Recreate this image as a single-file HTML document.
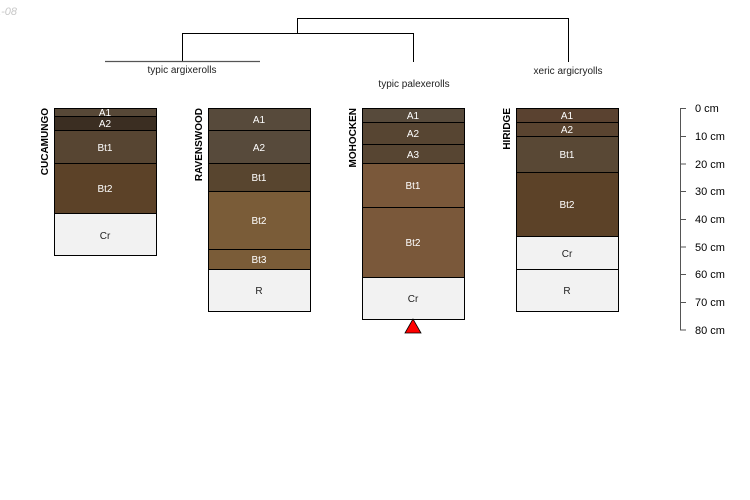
<!DOCTYPE html>
<html><head><meta charset="utf-8"><style>
html,body{margin:0;padding:0;background:#fff;width:750px;height:500px;overflow:hidden}
svg{display:block;font-family:"Liberation Sans",sans-serif}
</style></head><body>
<svg width="750" height="500" viewBox="0 0 750 500" xmlns="http://www.w3.org/2000/svg">
<text x="17" y="15" text-anchor="end" font-size="11" font-style="italic" fill="#c8c8c8">2021-08</text>
<g stroke="#000" stroke-width="1" fill="none">
<path d="M297.5 33V18.5H568.5V62"/>
<path d="M182.5 61V33.5H413.5V62"/>
</g>
<path d="M105 61.5H260" stroke="#555" stroke-width="1.2"/>
<g font-size="10" fill="#222" text-anchor="middle">
<text x="182" y="73">typic argixerolls</text>
<text x="414" y="87">typic palexerolls</text>
<text x="568" y="74">xeric argicryolls</text>
</g>
<g stroke="#000" stroke-width="1">
<!-- Cucamungo -->
<rect x="54.5" y="108.5" width="102" height="8" fill="#574837"/>
<rect x="54.5" y="116.5" width="102" height="14" fill="#3b2e22"/>
<rect x="54.5" y="130.5" width="102" height="33" fill="#574532"/>
<rect x="54.5" y="163.5" width="102" height="50" fill="#5c4228"/>
<rect x="54.5" y="213.5" width="102" height="42" fill="#f2f2f2"/>
<!-- Ravenswood -->
<rect x="208.5" y="108.5" width="102" height="22" fill="#574a3b"/>
<rect x="208.5" y="130.5" width="102" height="33" fill="#574a3b"/>
<rect x="208.5" y="163.5" width="102" height="28" fill="#58452f"/>
<rect x="208.5" y="191.5" width="102" height="58" fill="#7a5c38"/>
<rect x="208.5" y="249.5" width="102" height="20" fill="#7a5c38"/>
<rect x="208.5" y="269.5" width="102" height="42" fill="#f2f2f2"/>
<!-- Mohocken -->
<rect x="362.5" y="108.5" width="102" height="14" fill="#574a3b"/>
<rect x="362.5" y="122.5" width="102" height="22" fill="#574532"/>
<rect x="362.5" y="144.5" width="102" height="19" fill="#574532"/>
<rect x="362.5" y="163.5" width="102" height="44" fill="#7a583a"/>
<rect x="362.5" y="207.5" width="102" height="70" fill="#7a583a"/>
<rect x="362.5" y="277.5" width="102" height="42" fill="#f2f2f2"/>
<!-- Hiridge -->
<rect x="516.5" y="108.5" width="102" height="14" fill="#5a4230"/>
<rect x="516.5" y="122.5" width="102" height="14" fill="#5a4430"/>
<rect x="516.5" y="136.5" width="102" height="36" fill="#594835"/>
<rect x="516.5" y="172.5" width="102" height="64" fill="#5c4228"/>
<rect x="516.5" y="236.5" width="102" height="33" fill="#f2f2f2"/>
<rect x="516.5" y="269.5" width="102" height="42" fill="#f2f2f2"/>
</g>
<g font-size="10" text-anchor="middle" fill="#fff">
<text x="105" y="116">A1</text><text x="105" y="127">A2</text><text x="105" y="151">Bt1</text><text x="105" y="192">Bt2</text>
<text x="105" y="239" fill="#222">Cr</text>
<text x="259" y="123">A1</text><text x="259" y="151">A2</text><text x="259" y="181">Bt1</text><text x="259" y="224">Bt2</text><text x="259" y="263">Bt3</text>
<text x="259" y="294" fill="#222">R</text>
<text x="413" y="119">A1</text><text x="413" y="137">A2</text><text x="413" y="158">A3</text><text x="413" y="189">Bt1</text><text x="413" y="246">Bt2</text>
<text x="413" y="302" fill="#222">Cr</text>
<text x="567" y="119">A1</text><text x="567" y="133">A2</text><text x="567" y="158">Bt1</text><text x="567" y="208">Bt2</text>
<text x="567" y="257" fill="#222">Cr</text><text x="567" y="294" fill="#222">R</text>
</g>
<g font-size="10" font-weight="bold" fill="#000" text-anchor="end">
<text transform="translate(48,108) rotate(-90)">CUCAMUNGO</text>
<text transform="translate(202,108) rotate(-90)">RAVENSWOOD</text>
<text transform="translate(356,108) rotate(-90)">MOHOCKEN</text>
<text transform="translate(510,108) rotate(-90)">HIRIDGE</text>
</g>
<polygon points="413,319 405,333 421,333" fill="#ff0000" stroke="#000" stroke-width="0.8"/>
<g stroke="#555" stroke-width="1">
<path d="M680.5 108V330"/>
<path d="M680 108.5H686M680 136.5H686M680 164H686M680 191.5H686M680 219.5H686M680 247H686M680 274.5H686M680 302.5H686M680 330H686"/>
</g>
<g font-size="11" fill="#000">
<text x="695" y="112">0 cm</text><text x="695" y="140">10 cm</text><text x="695" y="168">20 cm</text>
<text x="695" y="195">30 cm</text><text x="695" y="223">40 cm</text><text x="695" y="251">50 cm</text>
<text x="695" y="278">60 cm</text><text x="695" y="306">70 cm</text><text x="695" y="334">80 cm</text>
</g>
</svg>
</body></html>
